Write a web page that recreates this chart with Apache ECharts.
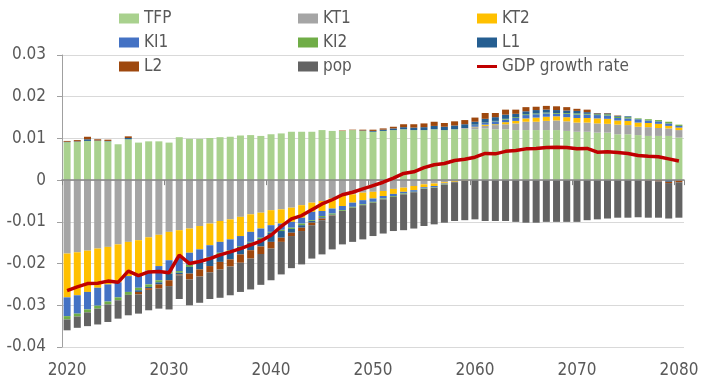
<!DOCTYPE html>
<html>
<head>
<meta charset="utf-8">
<script src="https://cdn.jsdelivr.net/npm/echarts@6/dist/echarts.min.js"></script>
<style>
  html, body { margin: 0; padding: 0; background: #fff; }
  #main { width: 708px; height: 384px; }
</style>
</head>
<body>
<div id="main"></div>
<script>
// categories 2020..2080
var years = [];
for (var y = 2020; y <= 2080; y++) years.push(String(y));

// contributions (2020 -> 2080)
var tfp = [0.0091,0.0092,0.0094,0.0094,0.0093,0.0086,0.0098,0.0090,0.0093,0.0093,
  0.0090,0.0103,0.0099,0.0099,0.0101,0.0103,0.0104,0.0107,0.0108,0.0106,
  0.0110,0.0112,0.0116,0.0116,0.0116,0.0120,0.0118,0.0118,0.0120,0.0118,
  0.0116,0.0118,0.0120,0.0122,0.0120,0.0120,0.0122,0.0120,0.0122,0.0123,
  0.0122,0.0124,0.0122,0.0122,0.0120,0.0120,0.0120,0.0120,0.0120,0.0118,
  0.0116,0.0116,0.0114,0.0114,0.0110,0.0110,0.0108,0.0106,0.0106,0.0106,
  0.0102];
var kt1 = [-0.0176,-0.0173,-0.0169,-0.0164,-0.0160,-0.0154,-0.0148,-0.0144,-0.0137,-0.0131,
  -0.0124,-0.0120,-0.0116,-0.0110,-0.0104,-0.0098,-0.0094,-0.0088,-0.0082,-0.0078,
  -0.0072,-0.0070,-0.0066,-0.0060,-0.0054,-0.0050,-0.0044,-0.0038,-0.0034,-0.0030,
  -0.0028,-0.0026,-0.0021,-0.0018,-0.0014,-0.0010,-0.0008,-0.0005,-0.0002,0.0002,
  0.0005,0.0006,0.0010,0.0012,0.0016,0.0020,0.0020,0.0022,0.0023,0.0023,
  0.0022,0.0022,0.0022,0.0021,0.0023,0.0022,0.0020,0.0021,0.0019,0.0018,
  0.0018];
var kt2 = [-0.0105,-0.0103,-0.0099,-0.0094,-0.0090,-0.0091,-0.0082,-0.0084,-0.0080,-0.0075,
  -0.0068,-0.0064,-0.0058,-0.0056,-0.0052,-0.0050,-0.0048,-0.0046,-0.0042,-0.0038,
  -0.0036,-0.0034,-0.0034,-0.0030,-0.0022,-0.0024,-0.0024,-0.0024,-0.0020,-0.0018,
  -0.0016,-0.0012,-0.0012,-0.0010,-0.0010,-0.0007,-0.0006,-0.0003,-0.0002,-0.0001,
  0.0001,0.0003,0.0002,0.0005,0.0006,0.0008,0.0010,0.0010,0.0010,0.0010,
  0.0011,0.0011,0.0012,0.0012,0.0010,0.0010,0.0010,0.0010,0.0010,0.0006,
  0.0006];
var ki1 = [-0.0045,-0.0044,-0.0042,-0.0043,-0.0041,-0.0036,-0.0038,-0.0030,-0.0033,-0.0034,
  -0.0028,-0.0034,-0.0029,-0.0026,-0.0028,-0.0026,-0.0026,-0.0024,-0.0024,-0.0022,
  -0.0016,-0.0015,-0.0014,-0.0014,-0.0020,-0.0012,-0.0012,-0.0010,-0.0010,-0.0010,
  -0.0008,-0.0006,-0.0005,-0.0004,-0.0004,-0.0003,-0.0003,-0.0002,-0.0001,0,
  0.0004,0.0004,0.0007,0.0006,0.0007,0.0008,0.0008,0.0008,0.0006,0.0008,
  0.0008,0.0008,0.0008,0.0008,0.0006,0.0006,0.0008,0.0006,0.0006,0.0006,
  0.0004];
var ki2 = [-0.0008,-0.0007,-0.0007,-0.0007,-0.0007,-0.0007,-0.0007,-0.0006,-0.0006,-0.0005,
  -0.0004,-0.0004,-0.0005,-0.0004,-0.0004,-0.0003,-0.0003,-0.0002,-0.0002,-0.0003,
  -0.0002,-0.0003,-0.0003,-0.0004,-0.0002,-0.0003,-0.0003,-0.0002,-0.0002,-0.0002,
  -0.0002,-0.0002,-0.0002,-0.0002,-0.0001,-0.0001,-0.0001,-0.0001,0,0,
  0.0001,0.0001,0.0001,0.0002,0.0002,0.0002,0.0002,0.0002,0.0002,0.0002,
  0.0003,0.0002,0.0002,0.0003,0.0003,0.0003,0.0002,0.0003,0.0003,0.0004,
  0.0003];
var l1 = [0.0001,0.0001,0.0004,0.0001,0.0001,0,0.0003,-0.0004,-0.0003,-0.0005,
  -0.0016,-0.0004,-0.0016,-0.0018,-0.0018,-0.0019,-0.0019,-0.0018,-0.0018,-0.0018,
  -0.0022,-0.0016,-0.0009,-0.0006,-0.0004,-0.0003,-0.0001,0,0,0.0001,
  0.0002,0.0003,0.0004,0.0005,0.0006,0.0007,0.0008,0.0008,0.0009,0.0009,
  0.0007,0.0009,0.0009,0.0010,0.0008,0.0007,0.0008,0.0007,0.0007,0.0006,
  0.0006,0.0004,0.0002,0.0002,0.0002,0.0002,0,0,0,-0.0004,
  -0.0001];
var l2 = [0.0002,0.0003,0.0006,0.0003,0.0003,0,0.0004,-0.0006,-0.0004,-0.0010,
  -0.0014,-0.0002,-0.0014,-0.0017,-0.0015,-0.0018,-0.0017,-0.0020,-0.0020,-0.0018,
  -0.0016,-0.0010,-0.0008,-0.0008,-0.0006,-0.0004,-0.0001,0.0001,0.0001,0.0002,
  0.0003,0.0003,0.0004,0.0007,0.0008,0.0009,0.0010,0.0009,0.0010,0.0010,
  0.0010,0.0014,0.0010,0.0012,0.0010,0.0010,0.0008,0.0009,0.0009,0.0008,
  0.0005,0.0006,0.0001,0.0001,0.0001,0,0,-0.0001,-0.0003,-0.0003,
  -0.0004];
var pop = [-0.0026,-0.0027,-0.0033,-0.0038,-0.0042,-0.0044,-0.0049,-0.0046,-0.0049,-0.0048,
  -0.0056,-0.0057,-0.0062,-0.0063,-0.0064,-0.0068,-0.0069,-0.0070,-0.0074,-0.0074,
  -0.0076,-0.0078,-0.0077,-0.0080,-0.0080,-0.0082,-0.0081,-0.0080,-0.0082,-0.0082,
  -0.0080,-0.0082,-0.0082,-0.0086,-0.0087,-0.0089,-0.0088,-0.0091,-0.0093,-0.0095,
  -0.0094,-0.0098,-0.0098,-0.0098,-0.0100,-0.0102,-0.0102,-0.0100,-0.0100,-0.0100,
  -0.0100,-0.0096,-0.0094,-0.0092,-0.0090,-0.0090,-0.0089,-0.0089,-0.0087,-0.0085,
  -0.0085];
var gdp = [-0.0265,-0.0256,-0.0248,-0.0247,-0.0242,-0.0245,-0.0218,-0.0229,-0.0220,-0.0219,
  -0.0222,-0.0180,-0.0200,-0.0195,-0.0188,-0.0179,-0.0172,-0.0164,-0.0155,-0.0146,
  -0.0132,-0.0111,-0.0093,-0.0085,-0.0071,-0.0057,-0.0047,-0.0035,-0.0029,-0.0021,
  -0.0013,-0.0005,0.0005,0.0016,0.0020,0.0030,0.0037,0.0040,0.0047,0.0050,
  0.0055,0.0064,0.0063,0.0069,0.0071,0.0075,0.0076,0.0078,0.0079,0.0078,
  0.0075,0.0076,0.0067,0.0068,0.0066,0.0064,0.0059,0.0057,0.0056,0.0051,
  0.0046];

var yTicks = [-0.04, -0.03, -0.02, -0.01, 0, 0.01, 0.02, 0.03];

var FONT = "'DejaVu Sans Condensed', 'DejaVu Sans', sans-serif";
var TXT = '#595959';

var chart = echarts.init(document.getElementById('main'), null, { renderer: 'canvas' });

function bar(name, data, color) {
  return {
    name: name,
    type: 'bar',
    stack: 'total',
    xAxisIndex: 0,
    data: data,
    barWidth: 7,
    itemStyle: { color: color },
    emphasis: { disabled: true }
  };
}

var legendCommon = {
  orient: 'vertical',
  top: 10,
  padding: 0,
  itemWidth: 20,
  itemHeight: 10,
  itemGap: 7,
  textStyle: { fontSize: 17, lineHeight: 17, color: TXT, fontFamily: FONT }
};

// flat bar used as the legend mark of the line
var lineIcon = 'path://M0,0L20,0L20,3L0,3Z';

var option = {
  animation: false,
  backgroundColor: '#fff',
  legend: [
    Object.assign({ left: 119, data: [{ name: 'TFP', icon: 'rect' }, { name: 'KI1', icon: 'rect' }, { name: 'L2', icon: 'rect' }] }, legendCommon),
    Object.assign({ left: 298, data: [{ name: 'KT1', icon: 'rect' }, { name: 'KI2', icon: 'rect' }, { name: 'pop', icon: 'rect' }] }, legendCommon),
    Object.assign({ left: 477, data: [{ name: 'KT2', icon: 'rect' }, { name: 'L1', icon: 'rect' }, { name: 'GDP growth rate', icon: lineIcon }] }, legendCommon)
  ],
  grid: { left: 62, right: 24, top: 55, bottom: 37, containLabel: false, outerBoundsMode: 'none' },
  xAxis: [
    {
      type: 'category',
      data: years,
      position: 'bottom',
      boundaryGap: true,
      axisLine: { show: false, onZero: false },
      axisTick: { show: false },
      splitLine: { show: false },
      axisLabel: { interval: 9, margin: 15, fontSize: 17, color: TXT, fontFamily: FONT }
    },
    {
      type: 'category',
      data: years,
      position: 'bottom',
      boundaryGap: true,
      z: 5,
      axisLine: { show: true, onZero: true, lineStyle: { color: '#868686', width: 1.5 } },
      axisTick: { show: true, interval: 9, length: 5, lineStyle: { color: '#868686' } },
      axisLabel: { show: false },
      splitLine: { show: false }
    }
  ],
  yAxis: {
    type: 'value',
    min: yTicks[0],
    max: yTicks[yTicks.length - 1],
    interval: 0.01,
    axisLine: { show: true, lineStyle: { color: '#a0a0a0' } },
    axisTick: { show: true, length: 5, lineStyle: { color: '#a0a0a0' } },
    splitLine: { show: true, lineStyle: { color: '#d9d9d9', width: 1 } },
    axisLabel: {
      margin: 16, fontSize: 17, color: TXT, fontFamily: FONT,
      formatter: function (v) { return Math.abs(v) < 1e-9 ? '0' : v.toFixed(2); }
    }
  },
  series: [
    bar('TFP', tfp, '#a9d18e'),
    bar('KT1', kt1, '#a5a5a5'),
    bar('KT2', kt2, '#ffc000'),
    bar('KI1', ki1, '#4472c4'),
    bar('KI2', ki2, '#70ad47'),
    bar('L1', l1, '#255e91'),
    bar('L2', l2, '#9e480e'),
    bar('pop', pop, '#636363'),
    {
      name: 'GDP growth rate',
      type: 'line',
      xAxisIndex: 0,
      data: gdp,
      symbol: 'none',
      z: 10,
      lineStyle: { color: '#c00000', width: 3.5 },
      itemStyle: { color: '#c00000' },
      emphasis: { disabled: true }
    }
  ]
};

chart.setOption(option);
</script>
</body>
</html>
